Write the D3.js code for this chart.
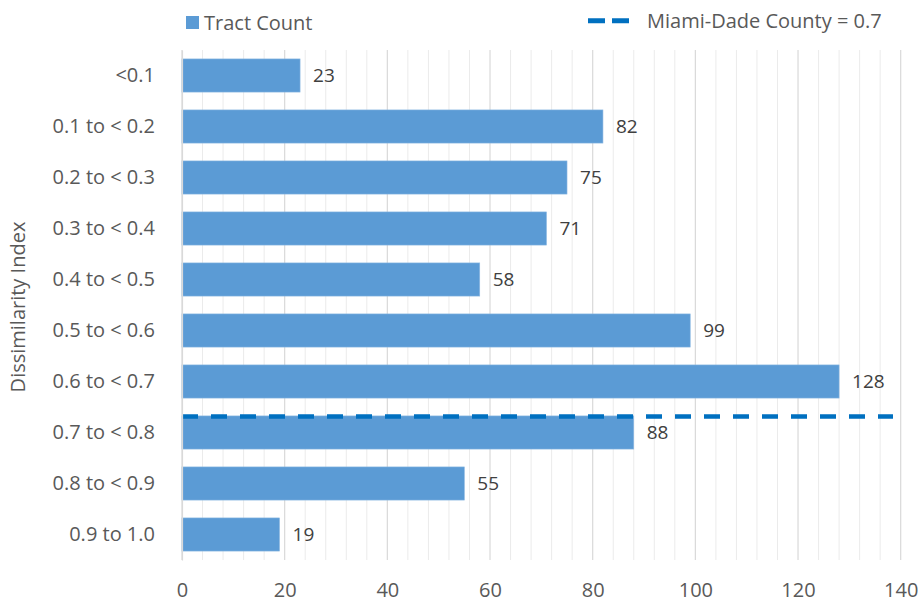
<!DOCTYPE html>
<html>
<head>
<meta charset="utf-8">
<script src="https://cdn.jsdelivr.net/npm/d3@7"></script>
<style>
  html, body { margin: 0; padding: 0; background: #ffffff; }
  svg { display: block; font-family: "Open Sans", "Liberation Sans", sans-serif; }
</style>
</head>
<body>
<svg id="chart" width="918" height="601"></svg>
<script>
// Census tracts binned by dissimilarity index
const categories = ["<0.1", "0.1 to < 0.2", "0.2 to < 0.3", "0.3 to < 0.4", "0.4 to < 0.5",
                    "0.5 to < 0.6", "0.6 to < 0.7", "0.7 to < 0.8", "0.8 to < 0.9", "0.9 to 1.0"];
const binLowerBounds = [0, 0.1, 0.2, 0.3, 0.4, 0.5, 0.6, 0.7, 0.8, 0.9];
const tractCounts = [23, 82, 75, 71, 58, 99, 128, 88, 55, 19];
const xTickValues = [0, 20, 40, 60, 80, 100, 120, 140];
const minorStep = 4;

// County-wide dissimilarity index, drawn as a dashed reference line
const countyIndex = 0.7;
const countyLabel = "Miami-Dade County = 0.7";
const refLineSpan = [0, 138.5];

const seriesName = "Tract Count";
const axisTitle = "Dissimilarity Index";

const barColor = "#5B9BD5";
const refColor = "#0070C0";
const textColor = "#595959";

const svg = d3.select("#chart");
const plot = { left: 182, right: 900.7, top: 50, bottom: 560 };

const x = d3.scaleLinear().domain([0, 140]).range([plot.left, plot.right]);
const y = d3.scaleBand().domain(categories).range([plot.top, plot.bottom])
  .paddingInner(0.35).paddingOuter(0.175);

// Vertical gridlines: light minor lines every 4, darker major lines every 20
const minor = d3.range(0, 140 + 0.001, minorStep).filter(v => !xTickValues.includes(v));
svg.append("g").selectAll("line").data(minor).join("line")
  .attr("x1", d => x(d)).attr("x2", d => x(d))
  .attr("y1", plot.top).attr("y2", plot.bottom)
  .attr("stroke", "#EBEBEB").attr("stroke-width", 1);
svg.append("g").selectAll("line").data(xTickValues).join("line")
  .attr("x1", d => x(d)).attr("x2", d => x(d))
  .attr("y1", plot.top).attr("y2", plot.bottom)
  .attr("stroke", "#D9D9D9").attr("stroke-width", 1.2);

// Bars
svg.append("g").selectAll("rect").data(tractCounts).join("rect")
  .attr("x", x(0))
  .attr("y", (d, i) => y(categories[i]))
  .attr("width", d => x(d) - x(0))
  .attr("height", y.bandwidth())
  .attr("fill", barColor)
  .attr("stroke", "#8DB8E2").attr("stroke-width", 0.6);

// Value labels
svg.append("g").selectAll("text").data(tractCounts).join("text")
  .attr("x", d => x(d) + 13)
  .attr("y", (d, i) => y(categories[i]) + y.bandwidth() / 2)
  .attr("dy", "0.36em")
  .attr("font-size", 19)
  .attr("fill", "#404040")
  .text(d => d);

// Reference line at the county index, placed at the start of its bin
const refCat = categories[binLowerBounds.indexOf(countyIndex)];
const refY = y(refCat) + 0.5;
svg.append("line")
  .attr("x1", x(refLineSpan[0])).attr("x2", x(refLineSpan[1]))
  .attr("y1", refY).attr("y2", refY)
  .attr("stroke", refColor).attr("stroke-width", 4.5)
  .attr("stroke-dasharray", "16,13");

// Category axis (left)
const yAxis = svg.append("g")
  .attr("transform", `translate(${plot.left},0)`)
  .call(d3.axisLeft(y).tickSize(0).tickPadding(27));
yAxis.select(".domain").attr("stroke", "#D9D9D9").attr("stroke-width", 1.2);
yAxis.selectAll("text").attr("font-size", 20).attr("fill", textColor)
  .attr("font-family", "'Open Sans', sans-serif");

// Value axis (bottom)
const xAxis = svg.append("g")
  .attr("transform", `translate(0,${plot.bottom})`)
  .call(d3.axisBottom(x).tickValues(xTickValues).tickSize(0).tickPadding(22.5));
xAxis.select(".domain").remove();
xAxis.selectAll("text").attr("font-size", 20).attr("fill", textColor)
  .attr("font-family", "'Open Sans', sans-serif");

// Axis title
svg.append("text")
  .attr("transform", `translate(25,307) rotate(-90)`)
  .attr("text-anchor", "middle")
  .attr("font-size", 20)
  .attr("fill", textColor)
  .text(axisTitle);

// Legend
const legend = svg.append("g");
legend.append("rect").attr("x", 186).attr("y", 16).attr("width", 13).attr("height", 13)
  .attr("fill", barColor);
legend.append("text").attr("x", 204).attr("y", 29.5)
  .attr("font-size", 20).attr("fill", textColor).text(seriesName);
legend.append("line").attr("x1", 588).attr("x2", 629).attr("y1", 20.8).attr("y2", 20.8)
  .attr("stroke", refColor).attr("stroke-width", 5)
  .attr("stroke-dasharray", "17,7");
legend.append("text").attr("x", 647).attr("y", 27.5)
  .attr("font-size", 20).attr("fill", textColor).text(countyLabel);
</script>
</body>
</html>
